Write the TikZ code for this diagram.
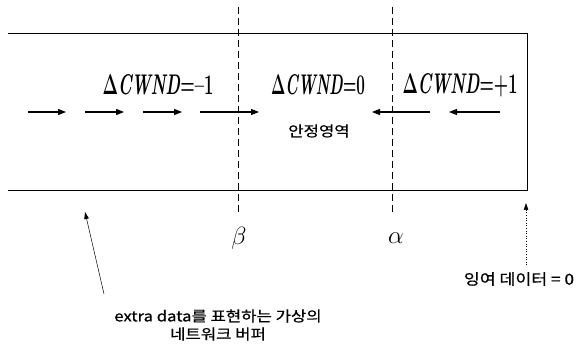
\documentclass[tikz,border=0pt]{standalone}
\usepackage{fontspec}
\usepackage{graphicx}
\newfontfamily\kr[FakeStretch=1.15,FakeBold=0.6]{Noto Sans CJK KR}
\newcommand{\dlab}[2]{\resizebox{#1}{20pt}{\rmfamily\bfseries\fontsize{28}{30}\selectfont #2}}
\usetikzlibrary{arrows.meta}
\begin{document}
\begin{tikzpicture}[x=1pt,y=-1pt,
  boxline/.style={line width=0.9pt},
  dashln/.style={line width=0.9pt, dash pattern=on 7pt off 4pt},
  flow/.style={line width=1.1pt,-{Triangle[length=8pt,width=6pt]}},
  thinarr/.style={line width=0.5pt,-{Triangle[length=7pt,width=4.5pt]}},
  dotarr/.style={line width=0.6pt, dotted,-{Triangle[length=7pt,width=4.5pt]}},
  delta/.style={inner sep=0pt},
  kor/.style={font=\kr\fontsize{14.5}{17}\selectfont, inner sep=0pt, align=center},
  greek/.style={font=\fontsize{28}{30}\selectfont, inner sep=0pt}]
\useasboundingbox (0,0) rectangle (581,358);
% buffer box (open on the left)
\coordinate (tl) at (8,33);
\coordinate (tr) at (527,33);
\coordinate (br) at (527,190);
\coordinate (bl) at (8,190);
\draw[boxline] (tl) -- (tr) -- (br) -- (bl);
% dashed thresholds
\coordinate (bt) at (238,7);
\coordinate (bb) at (238,215);
\coordinate (at) at (392,7);
\coordinate (ab) at (392,215);
\draw[dashln] (bt) -- (bb);
\draw[dashln] (at) -- (ab);
\node[greek] (beta) at (239,238) {$\beta$};
\node[greek] (alpha) at (396,238) {$\alpha$};
% labels
\node[delta] (dm) at (158,85) {\dlab{111pt}{Δ\textit{CWND}=–1}};
\node[delta] (d0) at (318,85) {\dlab{94pt}{Δ\textit{CWND}=0}};
\node[delta] (dp) at (460,85) {\dlab{115pt}{Δ\textit{CWND}=+1}};
\node[kor] (stable) at (319,131) {안정영역};
% right-going arrows
\coordinate (r1s) at (28,112);  \coordinate (r1e) at (66,112);
\coordinate (r2s) at (85,112);  \coordinate (r2e) at (124,112);
\coordinate (r3s) at (143,112); \coordinate (r3e) at (182,112);
\coordinate (r4s) at (200,112); \coordinate (r4e) at (259,112);
\draw[flow] (r1s) -- (r1e);
\draw[flow] (r2s) -- (r2e);
\draw[flow] (r3s) -- (r3e);
\draw[flow] (r4s) -- (r4e);
% left-going arrows
\coordinate (l1s) at (430,112); \coordinate (l1e) at (372,112);
\coordinate (l2s) at (500,112); \coordinate (l2e) at (449,112);
\draw[flow] (l1s) -- (l1e);
\draw[flow] (l2s) -- (l2e);
% annotations
\node[kor] (extra) at (218,325) {extra data를 표현하는 가상의\\[1pt]네트워크 버퍼};
\coordinate (xs) at (104,294);
\coordinate (xe) at (85,212);
\draw[thinarr] (xs) -- (xe);
\node[kor,font=\kr\fontsize{15}{17}\selectfont] (zero) at (519,279) {잉여 데이터 = 0};
\coordinate (zs) at (526,265);
\coordinate (ze) at (526,203);
\draw[dotarr] (zs) -- (ze);
\end{tikzpicture}
\end{document}
